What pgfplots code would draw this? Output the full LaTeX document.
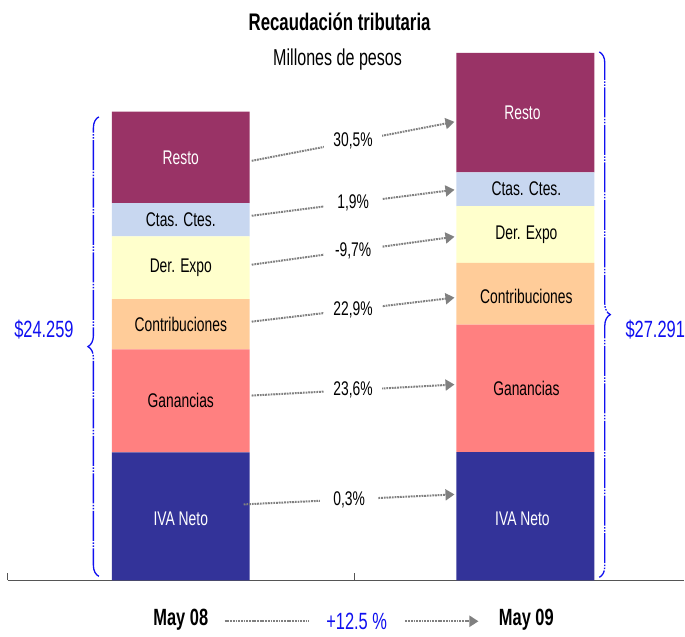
\documentclass[border=0pt]{standalone}
\usepackage{fontspec}
\setmainfont{Liberation Sans}[FakeStretch=0.7]
\usepackage{pgfplots}
\pgfplotsset{compat=1.18}
\usepackage{pgfplotstable}
\usetikzlibrary{arrows.meta,decorations.pathreplacing}
\definecolor{cres}{HTML}{993366}
\definecolor{ccta}{HTML}{C8D7F0}
\definecolor{cder}{HTML}{FFFFCC}
\definecolor{ccon}{HTML}{FFCC99}
\definecolor{cgan}{HTML}{FF8080}
\definecolor{civa}{HTML}{333399}
\definecolor{axisgray}{HTML}{555555}
\definecolor{arrgray}{HTML}{808080}
\definecolor{tblue}{HTML}{1010F0}
\pgfplotstableread{
x iva gan con der cta res
181 6620 5330 2600 3250 1720 4739
526 6640 6588 3195 2935 1753 6180
}\datatab
\tikzset{
  lab/.style={font=\fontsize{19.8}{21}\selectfont, inner sep=0pt},
  pct/.style={font=\fontsize{19.8}{21}\selectfont, text=black, fill=white, inner sep=0pt, minimum width=58pt, minimum height=16pt},
  arr/.style={arrgray, line width=2pt, dash pattern=on 1.8pt off 0.9pt, -{Triangle[length=9pt,width=11pt]}},
  br/.style={tblue, line width=1.3pt, dash pattern=on 30pt off 1.5pt on 1.5pt off 1.5pt on 1.5pt off 1.5pt, decorate, decoration={brace, amplitude=11pt}},
}
\begin{document}
\begin{tikzpicture}
\begin{axis}[
  scale only axis, width=677pt, height=637pt,
  xmin=8, xmax=685, ymin=-2895, ymax=30032,
  axis x line*=middle, axis y line=none,
  xtick={8,355}, xticklabels={}, xtick align=inside, major tick length=7pt,
  x axis line style={line width=1.6pt, color=axisgray},
  every tick/.style={line width=1pt, color=axisgray},
  ytick=\empty, clip=false,
  ybar stacked, bar width=138,
]
\addplot[fill=civa, draw=none] table[x=x,y=iva]{\datatab};
\addplot[fill=cgan, draw=none] table[x=x,y=gan]{\datatab};
\addplot[fill=ccon, draw=none] table[x=x,y=con]{\datatab};
\addplot[fill=cder, draw=none] table[x=x,y=der]{\datatab};
\addplot[fill=ccta, draw=none] table[x=x,y=cta]{\datatab};
\addplot[fill=cres, draw=none] table[x=x,y=res]{\datatab};
\end{axis}
% annotations in pixel coordinates of the 685x637 canvas
\begin{scope}[x=1pt, y=-1pt, shift={(-8pt,637pt)}]
\path (0,0) rectangle (685,637);
% bar labels
\node[lab, white] at (181,158) {Resto};
\node[lab] at (181,220) {Ctas. Ctes.};
\node[lab] at (181,268) {Der. Expo};
\node[lab] at (181,325) {Contribuciones};
\node[lab] at (181,401) {Ganancias};
\node[lab, white] at (181,519) {IVA Neto};
\node[lab, white] at (523,113) {Resto};
\node[lab] at (527,189) {Ctas. Ctes.};
\node[lab] at (527,235) {Der. Expo};
\node[lab] at (527,297) {Contribuciones};
\node[lab] at (527,389) {Ganancias};
\node[lab, white] at (523,519) {IVA Neto};
% change arrows
\draw[arr] (252,161) -- node[pct, midway]{30,5\%} (455,122);
\draw[arr] (252,216) -- node[pct, midway]{1,9\%} (455,190);
\draw[arr] (252,265) -- node[pct, midway]{-9,7\%} (455,237);
\draw[arr] (252,322) -- node[pct, midway]{22,9\%} (455,298);
\draw[arr] (252,396) -- node[pct, midway]{23,6\%} (455,385);
\draw[arr] (244,505) -- node[pct, midway]{0,3\%} (455,495);
% braces and totals
\draw[br] (99,577) -- (99,117);
\draw[br] (600,52) -- (600,578);
\node[font=\fontsize{23.5}{25}\selectfont, text=tblue, inner sep=0pt] at (44,330) {\$24.259};
\node[font=\fontsize{23.5}{25}\selectfont, text=tblue, inner sep=0pt] at (656,330) {\$27.291};
% titles
\node[font=\fontsize{24}{26}\selectfont\bfseries, inner sep=0pt] at (340,22) {Recaudación tributaria};
\node[font=\fontsize{23}{25}\selectfont, inner sep=0pt] at (338,60) {Millones de pesos};
% bottom labels
\node[font=\fontsize{23.5}{25}\selectfont\bfseries, inner sep=0pt] at (181,620) {May 08};
\node[font=\fontsize{23.5}{25}\selectfont\bfseries, inner sep=0pt] at (527,620) {May 09};
\draw[arr] (225,622) -- node[pos=0.52, fill=white, inner sep=0pt, minimum width=96pt, minimum height=18pt, font=\fontsize{23.5}{25}\selectfont, text=tblue]{+12.5 \%} (479,622);
\end{scope}
\end{tikzpicture}
\end{document}
